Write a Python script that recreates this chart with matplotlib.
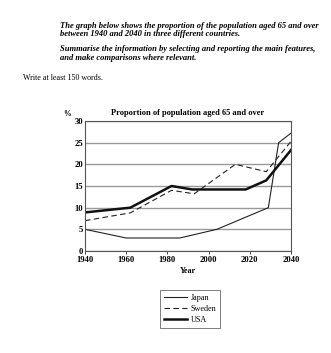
import matplotlib.pyplot as plt

# data
japan_years = [1940, 1960, 1986, 2004, 2029, 2034, 2040]
japan_vals = [5, 3, 3, 5, 10, 25, 27.2]
sweden_years = [1940, 1962, 1982, 1993, 2013, 2028, 2040]
sweden_vals = [7, 8.8, 14, 13.2, 20, 18.3, 25.3]
usa_years = [1940, 1962, 1982, 1992, 2018, 2028, 2040]
usa_vals = [8.9, 10, 15, 14.2, 14.2, 16.3, 23.3]

x_ticks = [1940, 1960, 1980, 2000, 2020, 2040]
y_ticks = [0, 5, 10, 15, 20, 25, 30]

plt.rcParams['font.family'] = ['Liberation Serif', 'DejaVu Serif']

W, H = 331, 353
fig = plt.figure(figsize=(W / 100, H / 100), dpi=100)

# task text above the chart
fig.text(60 / W, 1 - 30 / H,
         'The graph below shows the proportion of the population aged 65 and over\n'
         'between 1940 and 2040 in three different countries.',
         fontsize=6.1, fontstyle='italic', fontweight='bold', va='center',
         linespacing=1.05)
fig.text(60 / W, 1 - 53.5 / H,
         'Summarise the information by selecting and reporting the main features,\n'
         'and make comparisons where relevant.',
         fontsize=6.1, fontstyle='italic', fontweight='bold', va='center',
         linespacing=1.05)
fig.text(23 / W, 1 - 78 / H, 'Write at least 150 words.', fontsize=5.8, va='center')

ax = fig.add_axes([85 / W, 1 - 251 / H, 206 / W, 130 / H])
ax.plot(japan_years, japan_vals, color='#222222', lw=0.8, label='Japan')
ax.plot(sweden_years, sweden_vals, color='#222222', lw=0.8, ls=(0, (5, 3)), label='Sweden')
ax.plot(usa_years, usa_vals, color='#111111', lw=1.8, label='USA')

ax.set_xlim(1940, 2040)
ax.set_ylim(0, 30)
ax.set_xticks(x_ticks)
ax.set_yticks(y_ticks)
ax.yaxis.grid(True, color='#999999', lw=1.0)
ax.set_axisbelow(True)
for s in ax.spines.values():
    s.set_color('#555555')
    s.set_linewidth(0.8)
ax.tick_params(axis='both', labelsize=6.2, length=2, width=0.5, pad=1.5)
ax.tick_params(axis='y', length=0)
for lab in ax.get_xticklabels() + ax.get_yticklabels():
    lab.set_fontweight('bold')

ax.set_title('Proportion of population aged 65 and over', fontsize=6.0,
             fontweight='bold', pad=4)
ax.set_xlabel('Year', fontsize=5.8, fontweight='bold', labelpad=2)
fig.text(63 / W, 1 - 114 / H, '%', fontsize=5.5, fontweight='bold', va='center')

leg = fig.legend(loc='upper left', bbox_to_anchor=(160 / W, 1 - 290 / H),
                 fontsize=5.9, frameon=True, fancybox=False, handlelength=2.8,
                 handletextpad=0.5, borderpad=0.45, labelspacing=0.4,
                 borderaxespad=0)
leg.get_frame().set_edgecolor('#444444')
leg.get_frame().set_linewidth(0.6)

fig.savefig('out.png', dpi=100)
